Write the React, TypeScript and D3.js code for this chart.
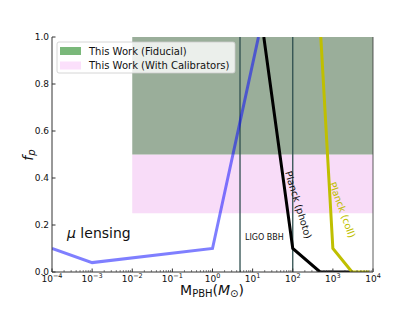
import React from "react";
import * as d3 from "d3";

const xTicks = [1e-4, 1e-3, 1e-2, 1e-1, 1, 10, 100, 1e3, 1e4];
const xTickExp = ["−4", "−3", "−2", "−1", "0", "1", "2", "3", "4"];
const yTicks = [0, 0.2, 0.4, 0.6, 0.8, 1.0];

const lensingM = [1e-4, 1e-3, 1, 14];
const lensingF = [0.1, 0.04, 0.1, 1.0];
const photoM = [19, 100, 480, 3000];
const photoF = [1.0, 0.1, 0, 0];
const collM = [500, 1000, 3000, 8000];
const collF = [1.0, 0.1, 0, 0];
const ligoM = [4.85, 100];
const fiducialBand = { m: [1e-2, 1e4], f: [0.5, 1.0] };
const calibBand = { m: [1e-2, 1e4], f: [0.25, 0.5] };

const W = 415, H = 312;
const L = 52, R = 373, T = 37, B = 272;
const FONT = "DejaVu Sans, sans-serif";

export default function App() {
  const x = d3.scaleLog().domain([1e-4, 1e4]).range([L, R]);
  const y = d3.scaleLinear().domain([0, 1]).range([B, T]);
  const line = d3
    .line<[number, number]>()
    .x((d) => x(d[0]))
    .y((d) => y(d[1]));
  const zip = (a: number[], b: number[]) => a.map((v, i) => [v, b[i]] as [number, number]);

  const minor: number[] = [];
  for (let e = -4; e < 4; e++) for (let k = 2; k <= 9; k++) minor.push(k * Math.pow(10, e));

  return (
    <svg width={W} height={H} style={{ position: "absolute", left: 0, top: 0, background: "#fff" }} fontFamily={FONT}>
      <defs>
        <clipPath id="plot">
          <rect x={L} y={T} width={R - L} height={B - T} />
        </clipPath>
      </defs>
      {/* bands */}
      <rect x={x(calibBand.m[0])} y={y(calibBand.f[1])} width={x(calibBand.m[1]) - x(calibBand.m[0])}
        height={y(calibBand.f[0]) - y(calibBand.f[1])} fill="#f8dcf8" />
      <rect x={x(fiducialBand.m[0])} y={y(fiducialBand.f[1])} width={x(fiducialBand.m[1]) - x(fiducialBand.m[0])}
        height={y(fiducialBand.f[0]) - y(fiducialBand.f[1])} fill="#9aae9a" />
      {/* LIGO lines */}
      {ligoM.map((m, i) => (
        <line key={i} x1={x(m)} x2={x(m)} y1={y(0)} y2={y(1)} stroke="#2f4f4f" strokeWidth={1.3} />
      ))}
      <g clipPath="url(#plot)" fill="none" strokeLinejoin="miter">
        <path d={line(zip(lensingM, lensingF)) || ""} stroke="blue" strokeOpacity={0.5} strokeWidth={3} />
        <path d={line(zip(photoM, photoF)) || ""} stroke="black" strokeWidth={3} />
        <path d={line(zip(collM, collF)) || ""} stroke="#bfbf00" strokeWidth={3} />
      </g>
      {/* spines */}
      <line x1={L} x2={L} y1={T} y2={B} stroke="#333" strokeWidth={1} />
      <line x1={L} x2={R} y1={B} y2={B} stroke="#333" strokeWidth={1} />
      <line x1={R} x2={R} y1={T} y2={B} stroke="#333" strokeWidth={0.8} />
      {/* y ticks */}
      {yTicks.map((t) => (
        <g key={t}>
          <line x1={L} x2={L + 3.5} y1={y(t)} y2={y(t)} stroke="#333" strokeWidth={1} />
          <text x={L - 3} y={y(t) + 3.2} fontSize={9} textAnchor="end" fill="#111">{t.toFixed(1)}</text>
        </g>
      ))}
      {/* x ticks */}
      {minor.map((m, i) => (
        <line key={i} x1={x(m)} x2={x(m)} y1={B} y2={B - 2} stroke="#333" strokeWidth={0.6} />
      ))}
      {xTicks.map((t, i) => (
        <g key={t}>
          <line x1={x(t)} x2={x(t)} y1={B} y2={B - 3.5} stroke="#333" strokeWidth={1} />
          <text x={x(t)} y={282} fontSize={9} textAnchor="middle" fill="#111">
            10<tspan dy={-4} fontSize={6.5}>{xTickExp[i]}</tspan>
          </text>
        </g>
      ))}
      {/* axis labels */}
      <text x={212} y={295} fontSize={14} textAnchor="middle" fill="#111">
        M<tspan fontSize={10} dy={2}>PBH</tspan><tspan dy={-2}>(</tspan><tspan fontStyle="italic">M</tspan>
        <tspan fontSize={10} dy={2}>⊙</tspan><tspan dy={-2}>)</tspan>
      </text>
      <text transform="translate(33,155) rotate(-90)" fontSize={14} textAnchor="middle" fill="#111">
        <tspan fontStyle="italic">f</tspan><tspan fontSize={10} dy={2} fontStyle="italic">p</tspan>
      </text>
      {/* annotations */}
      <text x={67} y={238} fontSize={14} fill="#111">
        <tspan fontStyle="italic">μ</tspan> lensing
      </text>
      <text x={245} y={240} fontSize={8} fill="#111">LIGO BBH</text>
      <text transform="translate(298,205) rotate(73)" fontSize={9.7} textAnchor="middle" dy={3} fill="#111">Planck (photo)</text>
      <text transform="translate(342,210) rotate(70)" fontSize={9.7} textAnchor="middle" dy={3} fill="#bfbf00">Planck (coll)</text>
      {/* legend */}
      <rect x={57} y={42} width={178} height={31} rx={2} fill="#fff" fillOpacity={0.8} stroke="#ccc" strokeWidth={0.8} />
      <rect x={60} y={47} width={21} height={8} fill="#7ab87a" />
      <rect x={60} y={61.5} width={21} height={8} fill="#fbe0fb" />
      <text x={89} y={54.5} fontSize={10} fill="#111">This Work (Fiducial)</text>
      <text x={89} y={69} fontSize={10} fill="#111">This Work (With Calibrators)</text>
    </svg>
  );
}
